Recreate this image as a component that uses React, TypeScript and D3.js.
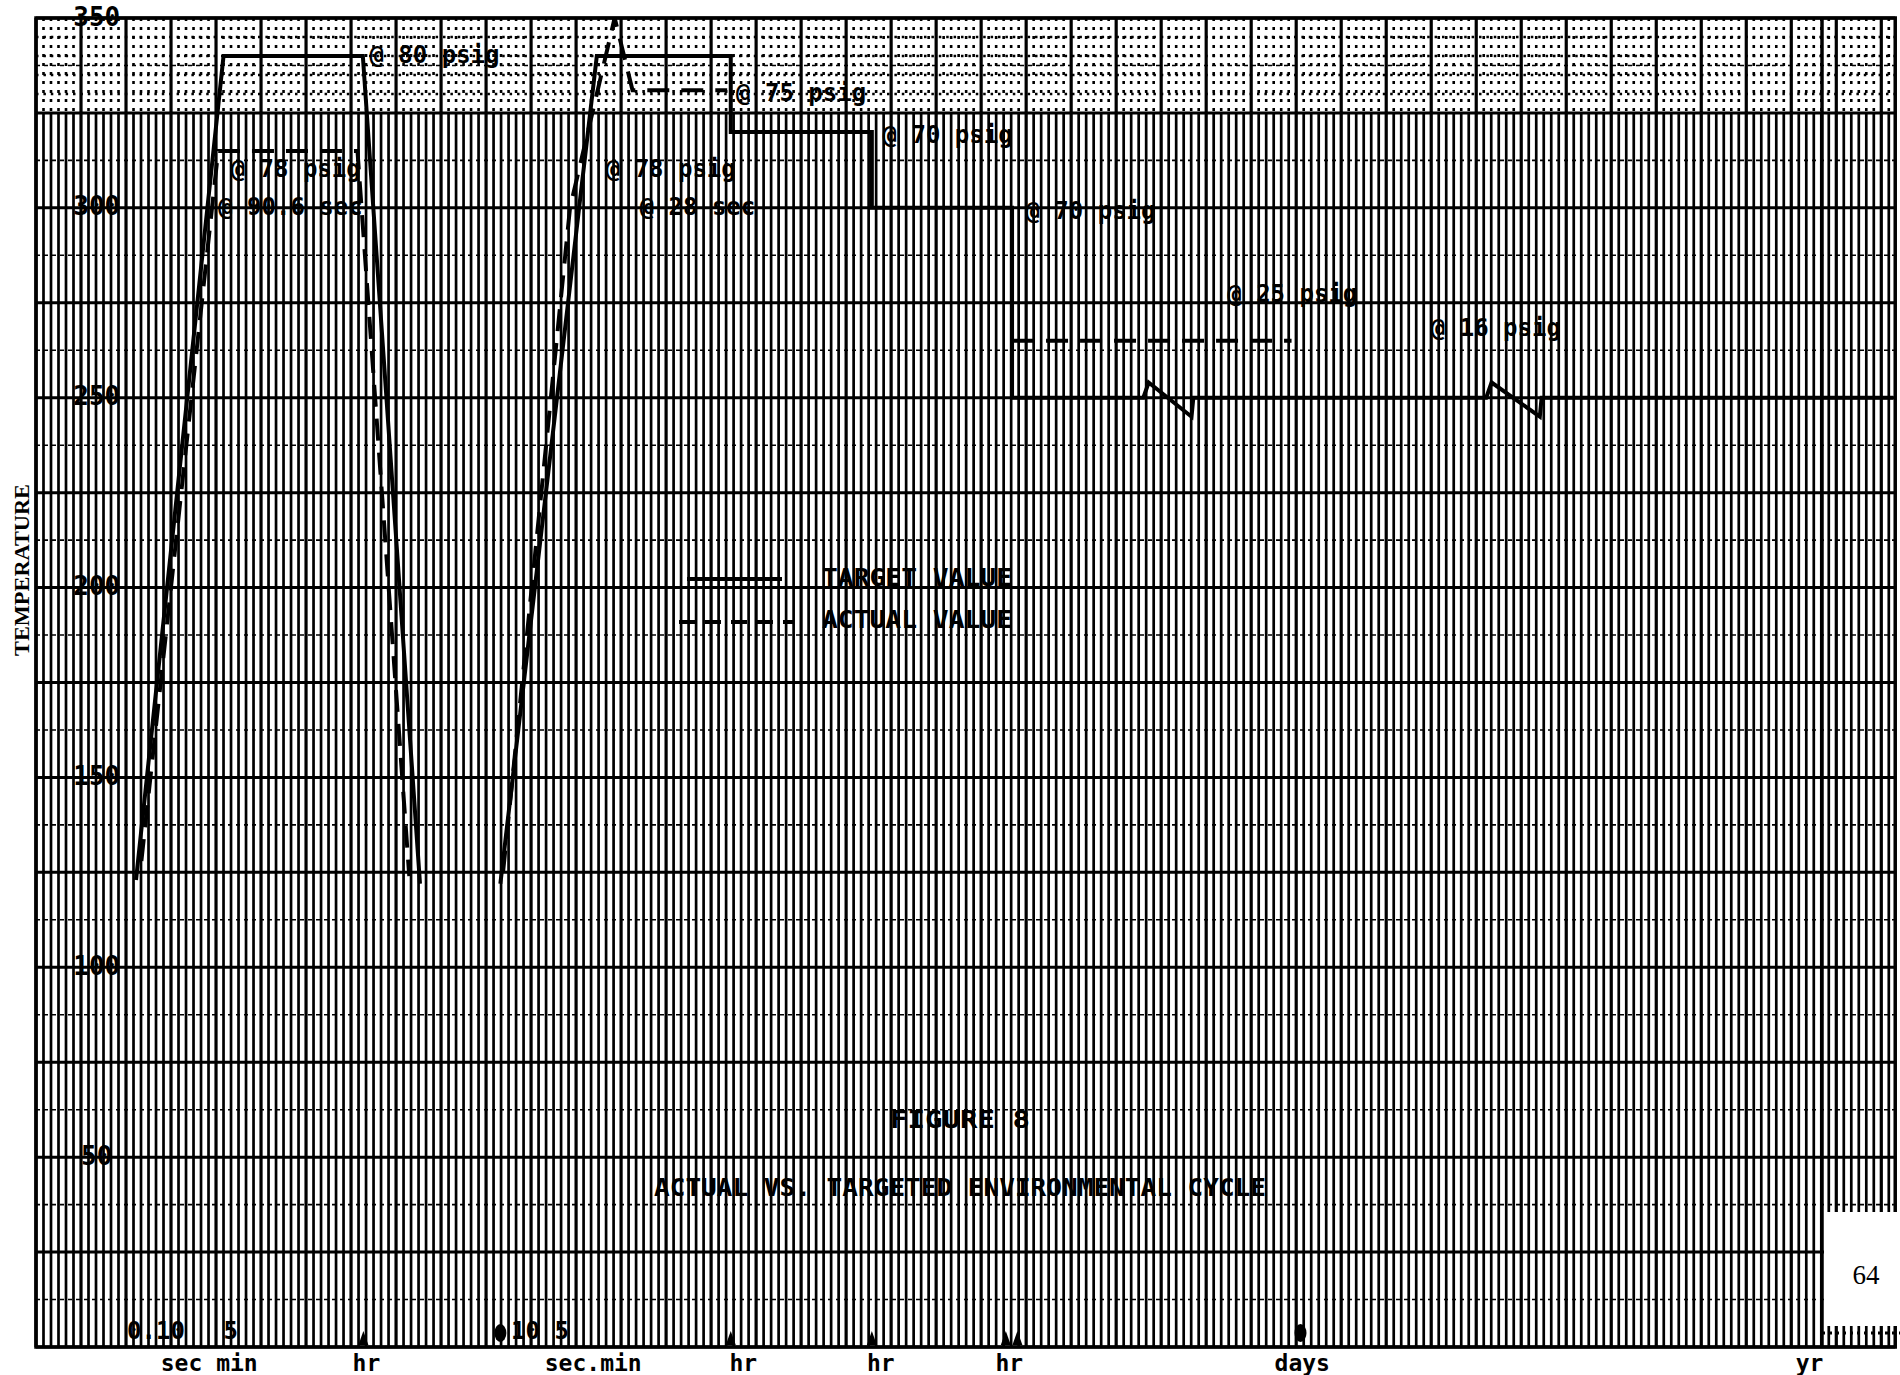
import React from 'react';
import * as d3 from 'd3';

const W = 1900;
const H = 1375;

// temperature ticks (deg)
const yTicks = [50, 100, 150, 200, 250, 300, 350];

// x axis: segmented log-time position units (0 = left edge, 100 = "yr")
const xAxisLabels = ['sec min', 'hr', 'sec.min', 'hr', 'hr', 'hr', 'days', 'yr'];
const xAxisLabelAt = [9.7, 18.5, 31.2, 39.6, 47.3, 54.5, 70.9, 99.3];

// bottom-edge markers
const markerTriangles = [18.33, 38.9, 46.8, 54.3, 54.95];
const markerDots = [26.0, 70.8];

// inner bottom scale labels
const innerLabels = ['0.10', '5', '10 5'];
const innerLabelAt = [5.1, 10.5, 26.6];

// TARGET VALUE (solid)
const targetCycle1: [number, number][] = [
  [5.6, 123], [10.5, 340], [18.3, 340], [21.5, 122],
];
const targetCycle2: [number, number][] = [
  [26.0, 122], [31.4, 340], [38.9, 340], [38.9, 320], [46.8, 320], [46.8, 300],
  [54.65, 300], [54.65, 250], [62.0, 250], [62.3, 254], [64.7, 245], [64.8, 250],
  [81.2, 250], [81.5, 254], [84.2, 245], [84.3, 250], [104, 250],
];

// ACTUAL VALUE (dashed)
const actualCycle1: [number, number][] = [
  [5.9, 128], [10.2, 315], [18.0, 315], [20.9, 124],
];
const actualCycle2: [number, number][] = [
  [26.15, 125], [29.9, 300], [32.4, 350], [33.4, 331], [38.7, 331],
];
const actualHold: [number, number][] = [
  [54.65, 265], [70.3, 265],
];

const annotations = [
  { text: '@ 80 psig', u: 18.67, v: 340 },
  { text: '@ 78 psig', u: 10.9, v: 310 },
  { text: '@ 90.6 sec', u: 10.2, v: 300 },
  { text: '@ 78 psig', u: 31.9, v: 310 },
  { text: '@ 28 sec', u: 33.8, v: 300 },
  { text: '@ 75 psig', u: 39.2, v: 330 },
  { text: '@ 70 psig', u: 47.4, v: 319 },
  { text: '@ 70 psig', u: 55.4, v: 299 },
  { text: '@ 25 psig', u: 66.7, v: 277 },
  { text: '@ 16 psig', u: 78.1, v: 268 },
];

const legendItems = ['TARGET VALUE', 'ACTUAL VALUE'];
const figureTitle = 'FIGURE 8';
const figureCaption = 'ACTUAL VS. TARGETED ENVIRONMENTAL CYCLE';
const yAxisTitle = 'TEMPERATURE';
const pageNumber = '64';

const MONO = '"DejaVu Sans Mono", "Liberation Mono", monospace';

export default function App() {
  const x = d3.scaleLinear().domain([0, 100]).range([36, 1822]);
  const y = d3.scaleLinear().domain([0, 350]).range([1347, 18]);
  const line = d3.line<[number, number]>().x(d => x(d[0])).y(d => y(d[1]));

  const uMax = 104.1;
  const minorStep = 0.42;
  const vLines = d3.range(0, uMax, minorStep);
  const hMajor = d3.range(0, 351, 25);
  const hMid = d3.range(12.5, 350, 25);
  const hTopDots = d3.range(330, 350, 5);

  const xL = x(0);
  const xR = x(uMax);

  return (
    <svg width={W} height={H} style={{ position: 'absolute', left: 0, top: 0, background: '#fff' }}>
      <rect x={0} y={0} width={W} height={H} fill="#fff" />
      {/* vertical grid */}
      <g stroke="#000">
        {vLines.map((u, i) => {
          const major = i % 6 === 0;
          return (
            <g key={'v' + i}>
              <line x1={x(u)} x2={x(u)} y1={y(325)} y2={y(0)} strokeWidth={major ? 3.2 : 2.7} />
              {major ? (
                <line x1={x(u)} x2={x(u)} y1={y(350)} y2={y(325)} strokeWidth={3.2} />
              ) : (
                <line x1={x(u)} x2={x(u)} y1={y(350)} y2={y(325)} strokeWidth={2.6} strokeDasharray="3 6" />
              )}
            </g>
          );
        })}
      </g>
      {/* horizontal grid */}
      <g stroke="#000">
        {hMajor.map(v => (
          <line key={'h' + v} x1={xL} x2={xR} y1={y(v)} y2={y(v)} strokeWidth={3} />
        ))}
        {hMid.map(v => (
          <line key={'hm' + v} x1={xL} x2={xR} y1={y(v)} y2={y(v)} strokeWidth={1.6} strokeDasharray="4 4" />
        ))}
        {hTopDots.map(v => (
          <line key={'hd' + v} x1={xL} x2={xR} y1={y(v)} y2={y(v)} strokeWidth={2.4} strokeDasharray="2.5 4.9" />
        ))}
      </g>
      {/* frame */}
      <rect x={xL} y={y(350)} width={xR - xL} height={y(0) - y(350)} fill="none" stroke="#000" strokeWidth={3.5} />
      <line x1={x(100)} x2={x(100)} y1={y(350)} y2={y(0)} stroke="#000" strokeWidth={3.5} />

      {/* page number patch */}
      <rect x={x(100) + 2} y={1212} width={W - x(100) - 2} height={114} fill="#fff" />
      <line x1={x(100)} x2={W} y1={1333} y2={1333} stroke="#000" strokeWidth={3} strokeDasharray="3 4" />
      <text x={1866} y={1284} fontFamily='"Liberation Serif", serif' fontSize={27} textAnchor="middle">{pageNumber}</text>

      {/* series */}
      <g fill="none" stroke="#000" strokeWidth={4} strokeLinejoin="miter">
        <path d={line(targetCycle1) || ''} />
        <path d={line(targetCycle2) || ''} />
      </g>
      <g fill="none" stroke="#000" strokeWidth={4} strokeDasharray="22 12">
        <path d={line(actualCycle1) || ''} />
        <path d={line(actualCycle2) || ''} />
        <path d={line(actualHold) || ''} />
      </g>

      {/* bottom markers */}
      <g fill="#000">
        {markerTriangles.map((u, i) => (
          <path key={'t' + i} d={`M${x(u) - 5},${y(0) - 2} L${x(u) + 5},${y(0) - 2} L${x(u)},${y(0) - 16} Z`} />
        ))}
        {markerDots.map((u, i) => (
          <ellipse key={'d' + i} cx={x(u)} cy={y(0) - 14} rx={6} ry={9} />
        ))}
      </g>

      {/* annotations */}
      <g fontFamily={MONO} fontWeight="bold" fontSize={24} fill="#000">
        {annotations.map((a, i) => (
          <text key={'a' + i} x={x(a.u)} y={y(a.v)} dominantBaseline="middle">{a.text}</text>
        ))}
        {innerLabels.map((t, i) => (
          <text key={'il' + i} x={x(innerLabelAt[i])} y={y(0) - 8}>{t}</text>
        ))}
      </g>

      {/* y tick labels */}
      <g fontFamily={MONO} fontWeight="bold" fontSize={26} fill="#000">
        {yTicks.map(v => (
          <text key={'yl' + v} x={x(3.4)} y={y(v)} dominantBaseline="middle" textAnchor="middle">{v}</text>
        ))}
      </g>

      {/* x axis labels */}
      <g fontFamily={MONO} fontWeight="bold" fontSize={23} fill="#000">
        {xAxisLabels.map((t, i) => (
          <text key={'xl' + i} x={x(xAxisLabelAt[i])} y={1371} textAnchor="middle">{t}</text>
        ))}
      </g>

      {/* y axis title */}
      <text
        transform={`translate(29, 570) rotate(-90)`}
        fontFamily='"Liberation Serif", serif'
        fontWeight="bold"
        fontSize={22}
        textAnchor="middle"
        textLength={172}
        lengthAdjust="spacingAndGlyphs"
      >
        {yAxisTitle}
      </text>

      {/* legend */}
      <g>
        <line x1={687} x2={782} y1={579} y2={579} stroke="#000" strokeWidth={4} />
        <line x1={679} x2={794} y1={622} y2={622} stroke="#000" strokeWidth={4} strokeDasharray="16 10" />
        <text x={822} y={579} dominantBaseline="middle" fontFamily={MONO} fontWeight="bold" fontSize={24} textLength={190} lengthAdjust="spacingAndGlyphs">{legendItems[0]}</text>
        <text x={822} y={621} dominantBaseline="middle" fontFamily={MONO} fontWeight="bold" fontSize={24} textLength={190} lengthAdjust="spacingAndGlyphs">{legendItems[1]}</text>
      </g>

      {/* caption */}
      <g fontFamily={MONO} fontWeight="bold" fontSize={25}>
        <text x={890} y={1121} dominantBaseline="middle" textLength={140} lengthAdjust="spacingAndGlyphs">{figureTitle}</text>
        <text x={654} y={1189} dominantBaseline="middle" textLength={612} lengthAdjust="spacingAndGlyphs">{figureCaption}</text>
      </g>
    </svg>
  );
}
